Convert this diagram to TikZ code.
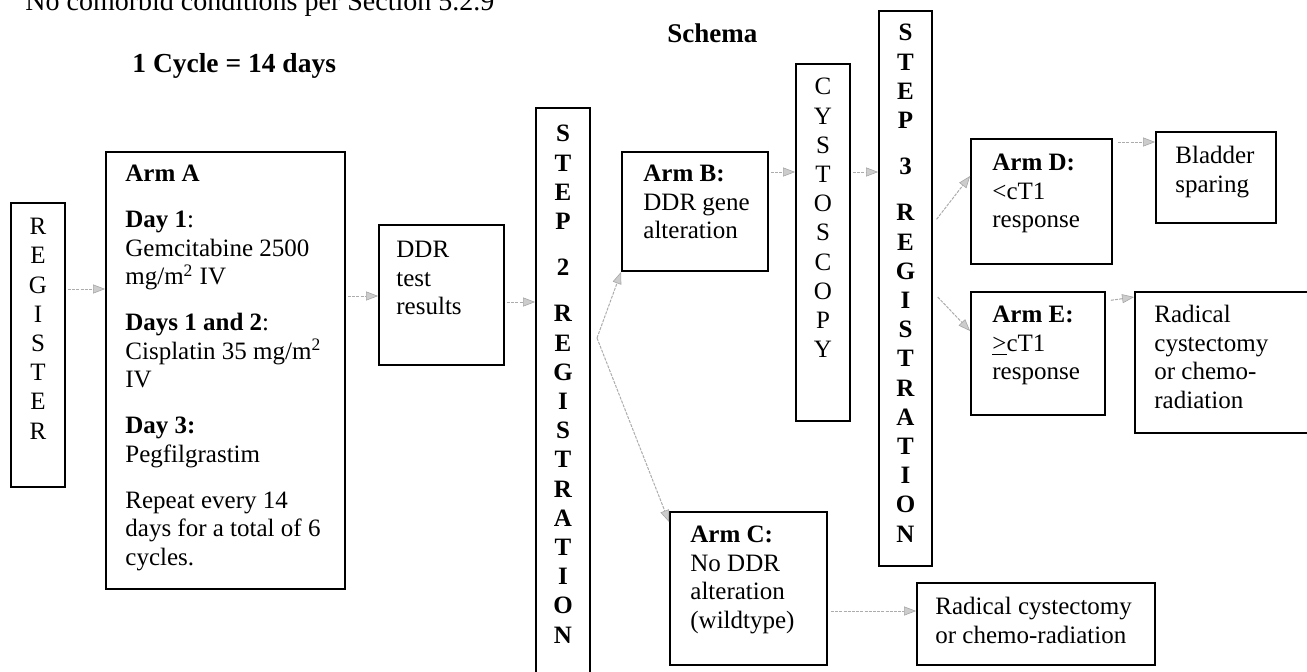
\documentclass[tikz,border=0pt]{standalone}
\usepackage{fontspec}
\setmainfont{Liberation Serif}
\usetikzlibrary{arrows.meta}
\begin{document}
\begin{tikzpicture}[x=0.5pt,y=-0.5pt,
  box/.style={draw=black, line width=0.9pt, inner sep=0pt},
  txt/.style={inner sep=0pt, align=left, anchor=north west, font=\fontsize{12.5}{14.25}\selectfont, execute at begin node=\strut},
  col/.style={inner sep=0pt, align=center, anchor=north, font=\fontsize{12.5}{14.6}\selectfont, execute at begin node=\strut},
  colb/.style={inner sep=0pt, align=center, anchor=north, font=\fontsize{12.5}{14.6}\selectfont\bfseries, execute at begin node=\strut},
  arr/.style={draw=gray!65, line width=0.5pt, dash pattern=on 1.5pt off 0.6pt,
    -{Triangle[length=6pt,width=4.5pt,color=gray!70,fill=gray!40,line width=0.3pt]}}]
\useasboundingbox (0,0) rectangle (1307,671);
\clip (0,0) rectangle (1307,671);

% titles
\node[inner sep=0pt, anchor=base west, font=\fontsize{14}{16}\selectfont] (cond) at (25,10) {No comorbid conditions per Section 5.2.9};
\node[inner sep=0pt, anchor=base west, font=\fontsize{13.75}{16}\selectfont\bfseries] (cycle) at (132,72) {1 Cycle = 14 days};
\node[inner sep=0pt, anchor=base west, font=\fontsize{13.5}{16}\selectfont\bfseries] (schema) at (667,42) {Schema};

% boxes
\node[box, minimum width=27pt, minimum height=142pt] (reg) at (38,345) {};
\node[box, minimum width=119.5pt, minimum height=218.5pt] (armA) at (225.5,370.5) {};
\node[box, minimum width=62.5pt, minimum height=70pt] (ddr) at (441.5,295) {};
\node[box, minimum width=27pt, minimum height=286pt] (step2) at (563,394) {};
\node[box, minimum width=73pt, minimum height=59.5pt] (armB) at (695,211.5) {};
\node[box, minimum width=27pt, minimum height=178.5pt] (cysto) at (823,242.5) {};
\node[box, minimum width=26.5pt, minimum height=277.5pt] (step3) at (905.5,288.5) {};
\node[box, minimum width=70.5pt, minimum height=62.5pt] (armD) at (1041.5,201.5) {};
\node[box, minimum width=60pt, minimum height=45.5pt] (blad) at (1216,177.5) {};
\node[box, minimum width=67pt, minimum height=61.5pt] (armE) at (1038,353.5) {};
\node[box, minimum width=92.5pt, minimum height=70.5pt] (radR) at (1227.5,362.5) {};
\node[box, minimum width=78.5pt, minimum height=76.5pt] (armC) at (748.5,588.5) {};
\node[box, minimum width=119pt, minimum height=41pt] (radB) at (1036,624) {};

% box texts
\node[col] (regT) at (38,218) {R\\E\\G\\I\\S\\T\\E\\R};
\node[txt] (armAT) at (125,165) {\textbf{Arm A}\\[8.75pt]
\textbf{Day 1}:\\
Gemcitabine 2500\\
mg/m\textsuperscript{2} IV\\[8.75pt]
\textbf{Days 1 and 2}:\\
Cisplatin 35 mg/m\textsuperscript{2}\\
IV\\[8.75pt]
\textbf{Day 3:}\\
Pegfilgrastim\\[8.75pt]
Repeat every 14\\
days for a total of 6\\
cycles.};
\node[txt] (ddrT) at (396,241) {DDR\\test\\results};
\node[colb] (step2T) at (563,125) {S\\T\\E\\P\\[8.5pt]2\\[8.5pt]R\\E\\G\\I\\S\\T\\R\\A\\T\\I\\O\\N};
\node[txt] (armBT) at (643,165) {\textbf{Arm B:}\\DDR gene\\alteration};
\node[col] (cystoT) at (823,78) {C\\Y\\S\\T\\O\\S\\C\\O\\P\\Y};
\node[colb] (step3T) at (905.5,24) {S\\T\\E\\P\\[8.5pt]3\\[8.5pt]R\\E\\G\\I\\S\\T\\R\\A\\T\\I\\O\\N};
\node[txt] (armDT) at (992,154) {\textbf{Arm D:}\\<cT1\\response};
\node[txt] (bladT) at (1175,146) {Bladder\\sparing};
\node[txt] (armET) at (992,306) {\textbf{Arm E:}\\\underline{>}cT1\\response};
\node[txt] (radRT) at (1154,305) {Radical\\cystectomy\\or chemo-\\radiation};
\node[txt] (armCT) at (690,526) {\textbf{Arm C:}\\No DDR\\alteration\\(wildtype)};
\node[txt] (radBT) at (935,597) {Radical cystectomy\\or chemo-radiation};

% connectors
\coordinate (br) at (597,338);
\draw[arr, shorten <=1pt] (reg.east |- 0,289) -- (armA.west |- 0,289);
\draw[arr, shorten <=1pt] (armA.east |- 0,296) -- (ddr.west |- 0,296);
\draw[arr, shorten <=1pt] (ddr.east |- 0,302) -- (step2.west |- 0,302);
\draw[arr] (br) -- (armB.south west);
\draw[arr] (br) -- (armC.west |- 0,522);
\draw[arr, shorten <=1pt] (armB.east |- 0,172) -- (cysto.west |- 0,172);
\draw[arr, shorten <=1pt] (cysto.east |- 0,172) -- (step3.west |- 0,172);
\draw[arr, shorten <=3pt] (step3.east |- 0,224) -- (armD.west |- 0,176);
\draw[arr, shorten <=3.5pt] (step3.east |- 0,292) -- (armE.west |- 0,331);
\draw[arr, shorten <=2.5pt] (armD.east |- 0,142) -- (blad.west |- 0,142);
\draw[arr, shorten <=2.5pt] (armE.east |- 0,301) -- (radR.west |- 0,297);
\draw[arr, shorten <=1.5pt] (armC.east |- 0,611) -- (radB.west |- 0,611);
\end{tikzpicture}
\end{document}
